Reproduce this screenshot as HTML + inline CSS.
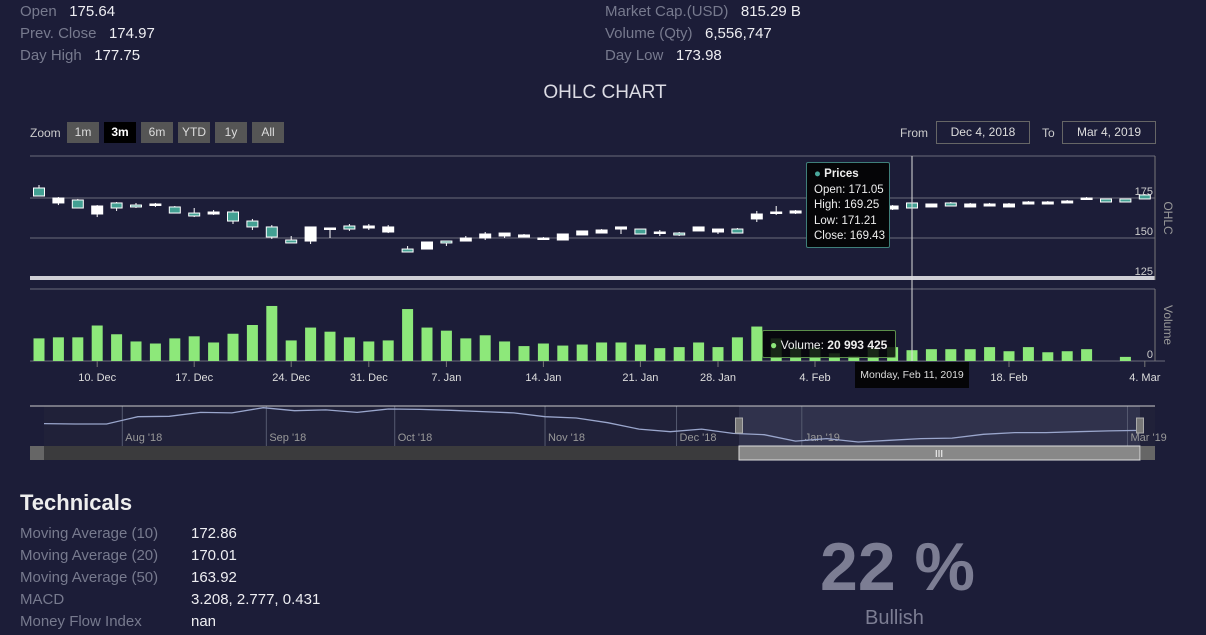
<!DOCTYPE html>
<html><head><meta charset="utf-8">
<style>
body{margin:0;width:1206px;height:635px;overflow:hidden;background:#1c1d38;font-family:"Liberation Sans",sans-serif;position:relative}
.t{position:absolute;font-size:15px;white-space:nowrap;line-height:18px}
.l{color:#777a8e}.v{color:#eeeef2}
.btn{position:absolute;top:122px;height:21px;line-height:21px;background:#555;color:#ddd;font-size:12px;text-align:center;width:32px}
.inp{position:absolute;top:121px;height:21px;width:92px;border:1px solid #666;color:#ddd;font-size:12px;line-height:21px;text-align:center}
svg{position:absolute;left:0;top:0}
</style></head><body>
<div class="t" style="left:20px;top:3px"><span class="l">Open</span>&nbsp;&nbsp; <span class="v">175.64</span></div>
<div class="t" style="left:20px;top:25px"><span class="l">Prev. Close</span>&nbsp;&nbsp; <span class="v">174.97</span></div>
<div class="t" style="left:20px;top:47px"><span class="l">Day High</span>&nbsp;&nbsp; <span class="v">177.75</span></div>
<div class="t" style="left:605px;top:3px"><span class="l">Market Cap.(USD)</span>&nbsp;&nbsp; <span class="v">815.29 B</span></div>
<div class="t" style="left:605px;top:25px"><span class="l">Volume (Qty)</span>&nbsp;&nbsp; <span class="v">6,556,747</span></div>
<div class="t" style="left:605px;top:47px"><span class="l">Day Low</span>&nbsp;&nbsp; <span class="v">173.98</span></div>
<div class="t" style="left:0;width:1210px;text-align:center;top:82px;font-size:19px;line-height:22px;color:#dcdce4">OHLC CHART</div>

<div class="t" style="left:30px;top:124px;font-size:12px;color:#ccc">Zoom</div>
<div class="btn" style="left:67px">1m</div>
<div class="btn" style="left:104px;background:#000;color:#fff;font-weight:bold">3m</div>
<div class="btn" style="left:141px">6m</div>
<div class="btn" style="left:178px">YTD</div>
<div class="btn" style="left:215px">1y</div>
<div class="btn" style="left:252px">All</div>
<div class="t" style="left:900px;top:124px;font-size:12px;color:#ccc">From</div>
<div class="inp" style="left:936px">Dec 4, 2018</div>
<div class="t" style="left:1042px;top:124px;font-size:12px;color:#ccc">To</div>
<div class="inp" style="left:1062px">Mar 4, 2019</div>

<svg id="chart" width="1206" height="470"></svg>

<div style="position:absolute;left:806px;top:162px;width:84px;height:86px;background:#050507;border:1px solid #3f7f7a;border-radius:2px;color:#eee;font-size:11.5px;line-height:15.5px;padding:4px 0 0 7px;box-sizing:border-box"><span style="color:#4aa89c">●</span> <b>Prices</b><br>Open: 171.05<br>High: 169.25<br>Low: 171.21<br>Close: 169.43</div>
<div style="position:absolute;left:762px;top:330px;width:134px;height:28px;background:rgba(5,5,7,.85);border:1px solid #5c8f4c;border-radius:2px;color:#eee;font-size:12px;line-height:28px;padding-left:7px;box-sizing:border-box"><span style="color:#8de87a">●</span> Volume: <b>20 993 425</b></div>
<div style="position:absolute;left:855px;top:362px;width:114px;height:26px;background:#050507;color:#ddd;font-size:10.5px;line-height:26px;text-align:center">Monday, Feb 11, 2019</div>

<div class="t" style="left:20px;top:490px;font-size:22px;line-height:26px;font-weight:bold;color:#eee">Technicals</div>
<div class="t l" style="left:20px;top:525px">Moving Average (10)</div><div class="t v" style="left:191px;top:525px">172.86</div>
<div class="t l" style="left:20px;top:547px">Moving Average (20)</div><div class="t v" style="left:191px;top:547px">170.01</div>
<div class="t l" style="left:20px;top:569px">Moving Average (50)</div><div class="t v" style="left:191px;top:569px">163.92</div>
<div class="t l" style="left:20px;top:591px">MACD</div><div class="t v" style="left:191px;top:591px">3.208, 2.777, 0.431</div>
<div class="t l" style="left:20px;top:613px">Money Flow Index</div><div class="t v" style="left:191px;top:613px">nan</div>
<div class="t" style="left:820px;top:530px;font-size:68px;line-height:74px;font-weight:bold;color:#7c7d93">22 %</div>
<div class="t" style="left:865px;top:606px;font-size:20px;line-height:24px;color:#7c7d93">Bullish</div>

<script>
// candle data: open, high, low, close, volume (millions)
const opens  =[181.25,171.9,173.75,165,171.9,170.6,170.6,169.4,165.6,165,166.25,160.6,156.9,148.75,148.1,155.6,157.5,156.25,153.75,143.1,143.1,148.1,148.1,150,151.25,150.6,149.4,148.75,151.9,153.1,155.6,155.6,153.1,153.1,154.4,153.75,155.6,161.9,165.6,165.6,166.25,166.9,167.5,168.1,168.1,171.9,169.4,171.9,169.4,170,169.4,171.25,171.25,171.9,174.4,174.4,174.4,176.9];
const highs  =[183.1,175.6,174.4,170.6,172.5,171.9,171.9,170,168.75,167.5,167.5,161.9,158.1,151.25,156.9,156.25,158.75,158.75,158.1,145,147.5,148.1,151.25,153.75,153.1,152.5,150.6,152.5,154.4,155.6,156.9,155.6,155,153.75,156.9,155.6,156.25,166.9,170,167.5,168.75,169.4,170,170.6,170.6,171.9,171.25,172.5,171.9,171.9,171.9,173.1,173.1,173.75,175.6,174.4,174.4,177.5];
const lows   =[176.25,170.6,168.75,163.1,166.9,168.75,169.4,165.6,163.1,164.4,158.75,155,149.4,146.9,146.25,150,154.4,155,153.1,141.25,143.1,145,148.1,148.75,150,150.6,148.75,148.75,151.9,153.1,152.5,152.5,151.25,151.25,154.4,152.5,153.1,160,164.4,165,165.6,166.25,166.9,167.5,167.5,168.75,169.4,170,169.4,170,169.4,171.25,171.25,171.9,174.4,172.5,172.5,174.4];
const closes =[176.25,175,168.75,170,168.75,169.4,171.25,165.6,163.75,166.25,160.6,156.9,150.6,146.9,156.9,156.25,155.6,157.5,156.9,141.25,147.5,146.9,150,152.5,153.1,151.9,150,152.5,154.4,155,156.9,152.5,153.75,151.9,156.9,155.6,153.1,165,166.25,166.9,168.1,168.75,169.4,170,170,168.75,171.25,170,171.25,171.25,171.25,172.5,172.5,173.1,175,172.5,172.5,174.4];
const volumes=[44,46,46,69,52,38,34,44,48,36,53,70,107,40,65,57,46,38,40,101,65,59,44,50,38,29,34,30,32,36,36,32,25,27,36,27,46,67,44,27,27,15,10,25,27,21,23,23,23,27,19,27,17,19,23,0,8,0];
const xTickLabels=["10. Dec","17. Dec","24. Dec","31. Dec","7. Jan","14. Jan","21. Jan","28. Jan","4. Feb","18. Feb","4. Mar"];
const xTickIdx=[3,8,13,17,21,26,31,35,40,50,57];
const priceTicks=[175,150,125];
const navCloses=[191,190,190,207,208,217,216,228,221,223,217,225,224,222,219,216,207,204,193,178,172,178,168,165,150,156,148,152,156,157,166,170,170,172,174,175];
const navMonthLabels=["Aug '18","Sep '18","Oct '18","Nov '18","Dec '18","Jan '19","Mar '19"];
const navMonthIdx=[2.5,7.1,11.2,16.0,20.2,24.2,34.6];

const NS="http://www.w3.org/2000/svg";
const svg=document.getElementById('chart');
function mk(tag,attrs,parent){const e=document.createElementNS(NS,tag);for(const k in attrs)e.setAttribute(k,attrs[k]);(parent||svg).appendChild(e);return e;}
const X=i=>39+i*19.4;
const Y=p=>198+(175-p)*40/25;
const VMAX=140;
const VY=v=>361-v/VMAX*72;

[156,198,238].forEach((y,k)=>{const g=mk('line',{x1:30,x2:1155,y1:y,y2:y,stroke:'#6a6a7a','stroke-width':1});

});
let sep=mk('rect',{x:30,y:276,width:1125,height:4,fill:'#cfcfd6'});


let vt=mk('line',{x1:30,x2:1155,y1:289,y2:289,stroke:'#6a6a7a'});


let vb=mk('line',{x1:30,x2:1165,y1:361,y2:361,stroke:'#6a6a7a'});


mk('line',{x1:1155,x2:1155,y1:156,y2:280,stroke:'#777'});
mk('line',{x1:1155,x2:1155,y1:289,y2:361,stroke:'#777'});
priceTicks.forEach(p=>{const t=mk('text',{x:1153,y:Y(p)-3,'text-anchor':'end','font-size':11,fill:'#ccc'});t.textContent=p;

});
let z=mk('text',{x:1153,y:358,'text-anchor':'end','font-size':11,fill:'#ccc'});z.textContent='0';


let a1=mk('text',{x:1164,y:218,'font-size':12,fill:'#999',transform:'rotate(90 1164 218)','text-anchor':'middle'});a1.textContent='OHLC';


let a2=mk('text',{x:1164,y:325,'font-size':12,fill:'#999',transform:'rotate(90 1164 325)','text-anchor':'middle'});a2.textContent='Volume';



xTickIdx.forEach((i,k)=>{const x=X(i);
const tk=mk('line',{x1:x,x2:x,y1:361,y2:367,stroke:'#777'});


const t=mk('text',{x:x,y:381,'text-anchor':'middle','font-size':11,fill:'#ddd'});t.textContent=xTickLabels[k];

});

volumes.forEach((v,i)=>{if(!v)return;const r=mk('rect',{x:X(i)-5.5,y:VY(v),width:11,height:361-VY(v),fill:'#8de87a'});

});

opens.forEach((o,i)=>{const c=closes[i],x=X(i);const down=c<o;const col=down?'#43a093':'#ffffff';
const w=mk('line',{x1:x,x2:x,y1:Y(highs[i]),y2:Y(lows[i]),stroke:'#fff','stroke-width':1});


const top=Y(Math.max(o,c)),h=Math.max(1.5,Math.abs(Y(o)-Y(c)));
const b=mk('rect',{x:x-5.5,y:top,width:11,height:h,fill:col,stroke:'#fff','stroke-width':1});

});

let ch=mk('line',{x1:X(45),x2:X(45),y1:156,y2:361,stroke:'#ddd','stroke-width':1});



const NX=i=>44+i*(1096/(navCloses.length-1));
const NY=p=>424-(p-190)*15/35;
let nb=mk('rect',{x:44,y:406,width:1111,height:40,fill:'#202139'});


let ns=mk('rect',{x:739,y:406,width:401,height:40,fill:'#30324c'});


navMonthIdx.forEach((m,k)=>{const x=NX(m);
const gl=mk('line',{x1:x,x2:x,y1:406,y2:446,stroke:'#555a70'});


const t=mk('text',{x:x+3,y:441,'font-size':11,fill:'#999'});t.textContent=navMonthLabels[k];

});
let d='';navCloses.forEach((p,i)=>{d+=(i?'L':'M')+NX(i).toFixed(1)+' '+NY(p).toFixed(1);});
let np=mk('path',{d:d,fill:'none',stroke:'#9aa6cc','stroke-width':1.3});


let nt=mk('line',{x1:30,x2:1155,y1:406,y2:406,stroke:'#ccc'});


[739,1140].forEach(x=>{const h=mk('rect',{x:x-3.5,y:418,width:7,height:15,fill:'#777',stroke:'#aaa'});

});
let st=mk('rect',{x:30,y:446,width:1125,height:14,fill:'#3b3b3d'});


let sl=mk('rect',{x:30,y:446,width:14,height:14,fill:'#666'});


let sr=mk('rect',{x:1141,y:446,width:14,height:14,fill:'#666'});


let th=mk('rect',{x:739,y:446,width:401,height:14,fill:'#888',stroke:'#ddd'});


let tg=mk('text',{x:939,y:457,'text-anchor':'middle','font-size':10,fill:'#fff'});tg.textContent='III';


</script>
</body></html>
